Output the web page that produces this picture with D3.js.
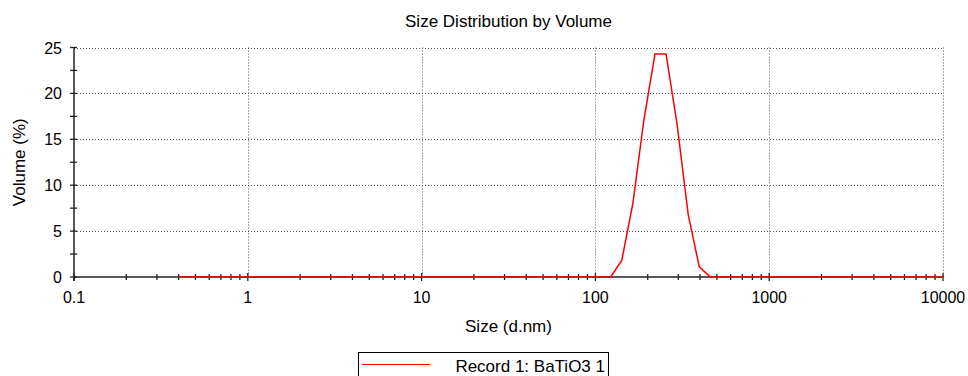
<!DOCTYPE html>
<html><head><meta charset="utf-8">
<script src="https://cdn.jsdelivr.net/npm/d3@7"></script>
<style>
html,body{margin:0;padding:0;background:#fff;}
text{font-family:"Liberation Sans",Arial,sans-serif;fill:#000;}
</style></head>
<body><svg id="chart" width="968" height="376"></svg>
<script>
const sizes = [0.4,0.4632,0.5365,0.6213,0.7195,0.8332,0.9649,1.117,1.294,1.499,1.736,2.010,2.328,2.696,3.122,3.615,4.187,4.849,5.615,6.503,7.531,8.721,10.10,11.70,13.54,15.69,18.17,21.04,24.36,28.21,32.67,37.84,43.82,50.75,58.77,68.06,78.82,91.28,105.7,122.4,141.8,164.2,190.1,220.2,255.0,295.3,342.0,396.1,458.7,531.2,615.1,712.4,825.0,955.4,1106,1281,1484,1718,1990,2305,2669,3091,3580,4145,4801,5560,6439,7456,8635,10000];
const peakSizes = [141.8,164.2,190.1,220.2,255.0,295.3,342.0,396.1];
const peakValues = [1.8,8.0,17.1,24.3,24.3,16.6,6.8,1.1];
const volumes = sizes.map(s => { const i = peakSizes.indexOf(s); return i >= 0 ? peakValues[i] : 0; });
const xTicks = [0.1,1,10,100,1000,10000];
const yTicks = [0,5,10,15,20,25];
const seriesName = "Record 1: BaTiO3 1";

const svg = d3.select("#chart");
const L = 74, R = 943, T = 47.5, B = 277;
const x = d3.scaleLog().domain([0.1,10000]).range([L,R]);
const y = d3.scaleLinear().domain([0,25]).range([B,T]);

// grid
const grid = svg.append("g").attr("stroke","#555").attr("stroke-width",1).attr("stroke-dasharray","1,2");
grid.selectAll("line.h").data(yTicks.filter(d=>d>0)).join("line")
  .attr("x1",L).attr("x2",R).attr("y1",d=>Math.round(y(d))+0.5).attr("y2",d=>Math.round(y(d))+0.5);
grid.selectAll("line.v").data(xTicks.filter(d=>d>0.1)).join("line")
  .attr("y1",T).attr("y2",B).attr("x1",d=>Math.round(x(d))+0.5).attr("x2",d=>Math.round(x(d))+0.5);

// ticks
const minorX = [];
for (let e=-1;e<4;e++) for (let k=2;k<10;k++) minorX.push(k*Math.pow(10,e));
const axes = svg.append("g").attr("stroke","#222").attr("stroke-width",1.3);
axes.selectAll("line.mx").data(minorX).join("line")
  .attr("x1",d=>x(d)).attr("x2",d=>x(d)).attr("y1",B-3).attr("y2",B+3);
axes.selectAll("line.Mx").data(xTicks).join("line")
  .attr("x1",d=>x(d)).attr("x2",d=>x(d)).attr("y1",B-4).attr("y2",B+4);
const minorY = d3.range(0,26,2.5);
axes.selectAll("line.my").data(minorY).join("line")
  .attr("x1",L-4).attr("x2",L+3).attr("y1",d=>y(d)).attr("y2",d=>y(d));
axes.append("line").attr("x1",L).attr("x2",R).attr("y1",B).attr("y2",B).attr("stroke-width",1.5);
axes.append("line").attr("x1",L).attr("x2",L).attr("y1",T).attr("y2",B+4).attr("stroke-width",1.5);

// tick labels
svg.selectAll("text.xt").data(xTicks).join("text")
  .attr("x",d=>x(d)).attr("y",302.5).attr("text-anchor","middle").attr("font-size",16)
  .text(d=>d3.format("")(d));
svg.selectAll("text.yt").data(yTicks).join("text")
  .attr("x",62).attr("y",d=>y(d)+6).attr("text-anchor","end").attr("font-size",16)
  .text(d=>d);

// line
svg.append("path").datum(sizes.map((s,i)=>[s,volumes[i]]))
  .attr("fill","none").attr("stroke","#ff0000").attr("stroke-width",1.5)
  .attr("d",d3.line().x(d=>x(d[0])).y(d=>y(d[1])));

// titles
svg.append("text").attr("x",(L+R)/2).attr("y",27).attr("text-anchor","middle").attr("font-size",17).text("Size Distribution by Volume");
svg.append("text").attr("x",(L+R)/2).attr("y",332).attr("text-anchor","middle").attr("font-size",17).text("Size (d.nm)");
svg.append("text").attr("transform",`translate(25,${(T+B)/2}) rotate(-90)`).attr("text-anchor","middle").attr("font-size",17).text("Volume (%)");

// legend
const lg = svg.append("g");
lg.append("rect").attr("x",358.5).attr("y",352.5).attr("width",250).attr("height",30).attr("fill","#fff").attr("stroke","#000").attr("stroke-width",1);
lg.append("line").attr("x1",362).attr("x2",430).attr("y1",364.5).attr("y2",364.5).attr("stroke","#ff0000").attr("stroke-width",1.2);
lg.append("text").attr("x",605).attr("y",371.5).attr("text-anchor","end").attr("font-size",17).text(seriesName);
</script></body></html>
